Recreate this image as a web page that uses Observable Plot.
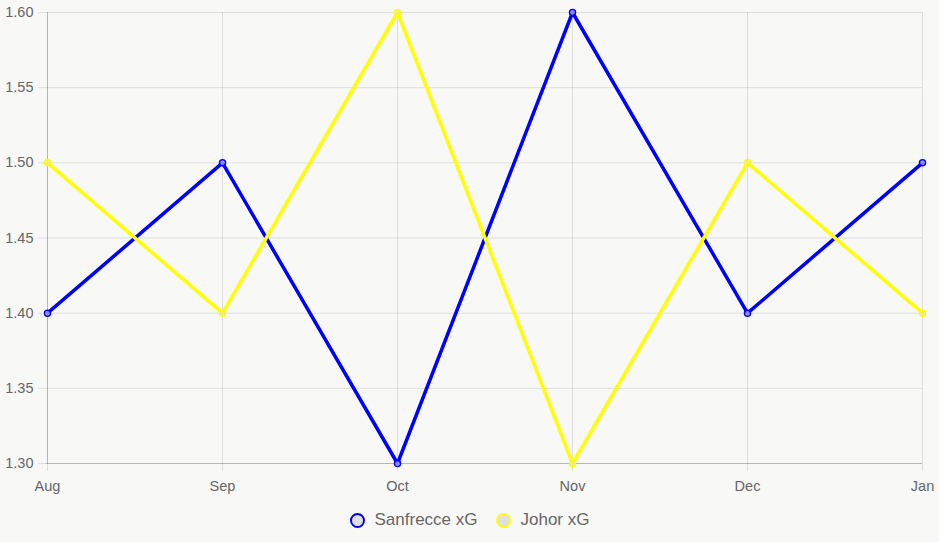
<!DOCTYPE html>
<html>
<head>
<meta charset="utf-8">
<script src="https://cdn.jsdelivr.net/npm/d3@7"></script>
<script src="https://cdn.jsdelivr.net/npm/@observablehq/plot@0.6"></script>
<style>
  html, body { margin: 0; padding: 0; background: #f8f8f7; }
  body { width: 939px; height: 542px; overflow: hidden; font-family: "Liberation Sans", Arial, sans-serif; }
  #chart svg text { font-size: 14.5px; }
  #legend { height: 42px; display: flex; justify-content: center; align-items: center; color: #666; font-size: 17px; margin-top: -1px; }
  .item { display: flex; align-items: center; margin: 0 9px; }
  .sw { width: 15px; height: 15px; border-radius: 50%; box-sizing: border-box; border: 2px solid; background: #e0e0e0; margin-right: 10px; }
</style>
</head>
<body>
<div id="chart"></div>
<div id="legend"></div>
<script>
const months = ["Aug", "Sep", "Oct", "Nov", "Dec", "Jan"];
const sanfrecce = [1.4, 1.5, 1.3, 1.6, 1.4, 1.5];
const johor = [1.5, 1.4, 1.6, 1.3, 1.5, 1.4];
const yTicks = [1.30, 1.35, 1.40, 1.45, 1.50, 1.55, 1.60];
const seriesNames = ["Sanfrecce xG", "Johor xG"];
const seriesColors = ["#0000ff", "#ffff00"];

const rows = [];
[sanfrecce, johor].forEach((vals, i) => {
  vals.forEach((v, j) => rows.push({series: seriesNames[i], month: months[j], value: v}));
});

const plot = Plot.plot({
  width: 939,
  height: 500,
  marginTop: 12,
  marginBottom: 37,
  marginLeft: 46,
  marginRight: 17,
  style: {background: "transparent", fontFamily: "Liberation Sans, Arial, sans-serif", fontSize: "14px"},
  x: {type: "point", domain: months, padding: 0, label: null},
  y: {domain: [1.3, 1.6], label: null},
  color: {domain: seriesNames, range: seriesColors},
  marks: [
    Plot.ruleY(yTicks, {stroke: "#000", strokeOpacity: 0.1}),
    Plot.ruleX(months, {stroke: "#000", strokeOpacity: 0.1}),
    Plot.axisY({ticks: yTicks, tickFormat: d3.format(".2f"), tickSize: 8, tickPadding: 5, stroke: "#000", strokeOpacity: 0.1, fill: "#666"}),
    Plot.axisX({tickSize: 8, tickPadding: 9, stroke: "#000", strokeOpacity: 0.1, fill: "#666"}),
    Plot.ruleX([months[0]], {stroke: "#000", strokeOpacity: 0.18}),
    Plot.ruleY([1.3], {stroke: "#000", strokeOpacity: 0.18}),
    Plot.line(rows, {x: "month", y: "value", z: "series", stroke: "series", strokeWidth: 3.5}),
    Plot.dot(rows, {x: "month", y: "value", stroke: "series", r: 3, strokeWidth: 1.5, fill: "#ddd", fillOpacity: 0.6})
  ]
});
document.getElementById("chart").appendChild(plot);

const legend = document.getElementById("legend");
seriesNames.forEach((name, i) => {
  const item = document.createElement("div");
  item.className = "item";
  const sw = document.createElement("span");
  sw.className = "sw";
  sw.style.borderColor = seriesColors[i];
  item.appendChild(sw);
  item.appendChild(document.createTextNode(name));
  legend.appendChild(item);
});
</script>
</body>
</html>
